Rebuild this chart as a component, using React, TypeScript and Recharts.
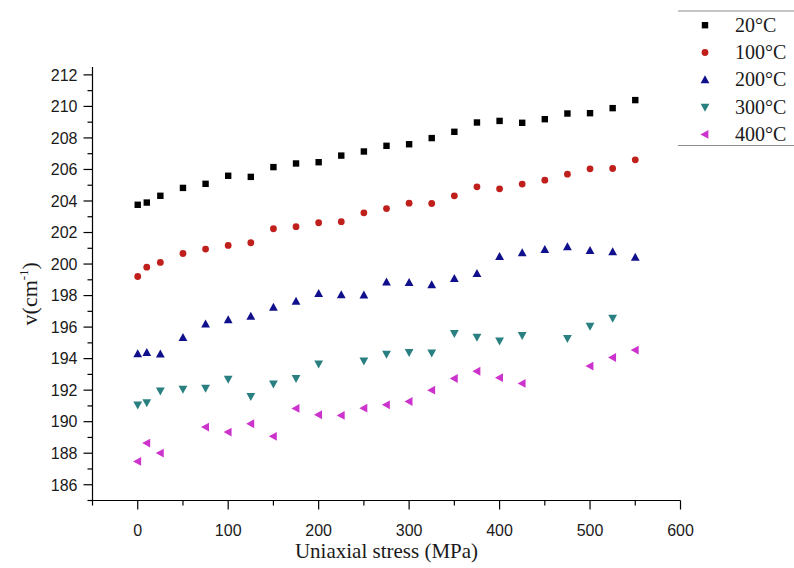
import React from 'react';
import { ScatterChart, Scatter, XAxis, YAxis, Legend } from 'recharts';

// Uniaxial stress (MPa)
const stress = [0, 10, 25, 50, 75, 100, 125, 150, 175, 200, 225, 250, 275, 300, 325, 350, 375, 400, 425, 450, 475, 500, 525, 550];

// Raman shift v (cm^-1) per temperature
const t20 = [203.76, 203.9, 204.33, 204.83, 205.09, 205.6, 205.53, 206.15, 206.38, 206.46, 206.88, 207.14, 207.5, 207.6, 207.99, 208.39, 208.98, 209.08, 208.96, 209.19, 209.55, 209.57, 209.89, 210.4];
const t100 = [199.21, 199.8, 200.1, 200.67, 200.95, 201.18, 201.35, 202.24, 202.37, 202.62, 202.69, 203.25, 203.52, 203.86, 203.84, 204.33, 204.9, 204.77, 205.07, 205.32, 205.7, 206.04, 206.06, 206.61];
const t200 = [194.31, 194.39, 194.29, 195.34, 196.19, 196.46, 196.68, 197.25, 197.63, 198.13, 198.05, 198.03, 198.85, 198.83, 198.68, 199.08, 199.4, 200.48, 200.71, 200.92, 201.09, 200.86, 200.78, 200.42];
const t300 = [191.07, 191.2, 191.96, 192.07, 192.13, 192.7, 191.6, 192.39, 192.74, 193.67, null, 193.86, 194.29, 194.4, 194.37, 195.6, 195.37, 195.13, 195.47, null, 195.28, 196.06, 196.57, null];
const t400 = [187.48, 188.64, 188.01, null, 189.66, 189.34, 189.87, 189.07, 190.84, 190.44, 190.4, 190.86, 191.07, 191.28, 192.0, 192.74, 193.2, 192.79, 192.43, null, null, 193.53, 194.07, 194.54];

const seriesNames = ['20°C', '100°C', '200°C', '300°C', '400°C'];
const seriesValues = [t20, t100, t200, t300, t400];
const seriesColors = ['#000000', '#c0201c', '#10108c', '#2a8080', '#cc33cc'];
const seriesShapes = ['square', 'circle', 'up', 'down', 'left'];

const xTicks = [-50, 0, 50, 100, 150, 200, 250, 300, 350, 400, 450, 500, 550, 600];
const yTicks = [185, 186, 187, 188, 189, 190, 191, 192, 193, 194, 195, 196, 197, 198, 199, 200, 201, 202, 203, 204, 205, 206, 207, 208, 209, 210, 211, 212];

const toData = (vals: (number | null)[]) =>
  stress
    .map((x, i) => ({ x, y: vals[i] }))
    .filter((d) => d.y !== null && d.y !== undefined);

const drawMarker = (kind: string, color: string, cx: number, cy: number) => {
  switch (kind) {
    case 'square':
      return <rect x={cx - 3.2} y={cy - 3.2} width={6.4} height={6.4} fill={color} />;
    case 'circle':
      return <circle cx={cx} cy={cy} r={3.4} fill={color} />;
    case 'up':
      return <polygon points={`${cx},${cy - 4.6} ${cx - 4.4},${cy + 3.4} ${cx + 4.4},${cy + 3.4}`} fill={color} />;
    case 'down':
      return <polygon points={`${cx - 4.4},${cy - 3.4} ${cx + 4.4},${cy - 3.4} ${cx},${cy + 4.6}`} fill={color} />;
    default:
      return <polygon points={`${cx - 4.6},${cy} ${cx + 3.4},${cy - 4.4} ${cx + 3.4},${cy + 4.4}`} fill={color} />;
  }
};

const makeShape = (kind: string, color: string) => (props: any) => {
  const { cx, cy } = props;
  if (cx == null || cy == null) return <g />;
  return drawMarker(kind, color, cx, cy);
};

const SANS = '"Liberation Sans", Arial, sans-serif';
const SERIF = '"Liberation Serif", "Times New Roman", serif';

const XTick = (props: any) => {
  const { x, y, payload } = props;
  const v = payload.value;
  const major = v % 100 === 0;
  return (
    <g>
      <line x1={x} x2={x} y1={y} y2={y + (major ? 9 : 5)} stroke="#000" strokeWidth={1.2} />
      {major && (
        <text x={x} y={y + 35} textAnchor="middle" fontSize={16} fontFamily={SANS} fill="#1a1a1a">
          {v}
        </text>
      )}
    </g>
  );
};

const YTick = (props: any) => {
  const { x, y, payload } = props;
  const v = payload.value;
  const major = v % 2 === 0;
  return (
    <g>
      <line x1={x - (major ? 9 : 5)} x2={x} y1={y} y2={y} stroke="#000" strokeWidth={1.2} />
      {major && (
        <text x={x - 15} y={y + 5.8} textAnchor="end" fontSize={16} fontFamily={SANS} fill="#1a1a1a">
          {v}
        </text>
      )}
    </g>
  );
};

const YLabel = (props: any) => {
  const vb = props.viewBox || {};
  const cx = (vb.x || 0) + 37;
  const cy = (vb.y || 0) + (vb.height || 0) / 2 + 10;
  return (
    <text
      x={cx}
      y={cy}
      transform={`rotate(-90 ${cx} ${cy})`}
      textAnchor="middle"
      fontSize={22}
      fontFamily={SERIF}
      fill="#1a1a1a"
    >
      v(cm
      <tspan dy={-9} fontSize={13}>-1</tspan>
      <tspan dy={9}>)</tspan>
    </text>
  );
};

const XLabel = (props: any) => {
  const vb = props.viewBox || {};
  const cx = (vb.x || 0) + (vb.width || 0) / 2;
  const y = (vb.y || 0) + 57;
  return (
    <text x={cx} y={y} textAnchor="middle" fontSize={21} fontFamily={SERIF} fill="#1a1a1a">
      Uniaxial stress (MPa)
    </text>
  );
};

const LegendBox = () => (
  <svg width={116} height={150} style={{ display: 'block' }}>
    <line x1={0} x2={116} y1={11} y2={11} stroke="#8c8c8c" strokeWidth={1} />
    <line x1={0} x2={116} y1={145.5} y2={145.5} stroke="#8c8c8c" strokeWidth={1} />
    {seriesNames.map((name, i) => {
      const cy = 25.2 + i * 27.3;
      return (
        <g key={name}>
          {drawMarker(seriesShapes[i], seriesColors[i], 27, cy)}
          <text x={57} y={cy + 6.5} fontSize={20} fontFamily={SERIF} fill="#1a1a1a">
            {name}
          </text>
        </g>
      );
    })}
  </svg>
);

export default function App() {
  return (
    <div style={{ position: 'absolute', left: 0, top: 0, width: 794, height: 568, background: '#fff' }}>
      <ScatterChart
        width={794}
        height={568}
        margin={{ top: 67, right: 113.5, bottom: 7.5, left: 0 }}
      >
        <XAxis
          type="number"
          dataKey="x"
          domain={[-50, 600]}
          ticks={xTicks}
          interval={0}
          allowDataOverflow
          height={60}
          tickSize={0}
          tickMargin={0}
          tickLine={false}
          tick={XTick}
          axisLine={{ stroke: '#000', strokeWidth: 1.2 }}
          label={{ content: XLabel }}
        />
        <YAxis
          type="number"
          dataKey="y"
          domain={[185, 212.5]}
          ticks={yTicks}
          interval={0}
          allowDataOverflow
          width={92.5}
          tickSize={0}
          tickMargin={0}
          tickLine={false}
          tick={YTick}
          axisLine={{ stroke: '#000', strokeWidth: 1.2 }}
          label={{ content: YLabel }}
        />
        <Legend
          layout="vertical"
          align="center"
          verticalAlign="middle"
          content={LegendBox}
          wrapperStyle={{ position: 'absolute', left: 678, top: 0, width: 116, height: 150 }}
        />
        {seriesNames.map((name, i) => (
          <Scatter
            key={name}
            name={name}
            data={toData(seriesValues[i])}
            fill={seriesColors[i]}
            shape={makeShape(seriesShapes[i], seriesColors[i])}
            isAnimationActive={false}
          />
        ))}
      </ScatterChart>
    </div>
  );
}
